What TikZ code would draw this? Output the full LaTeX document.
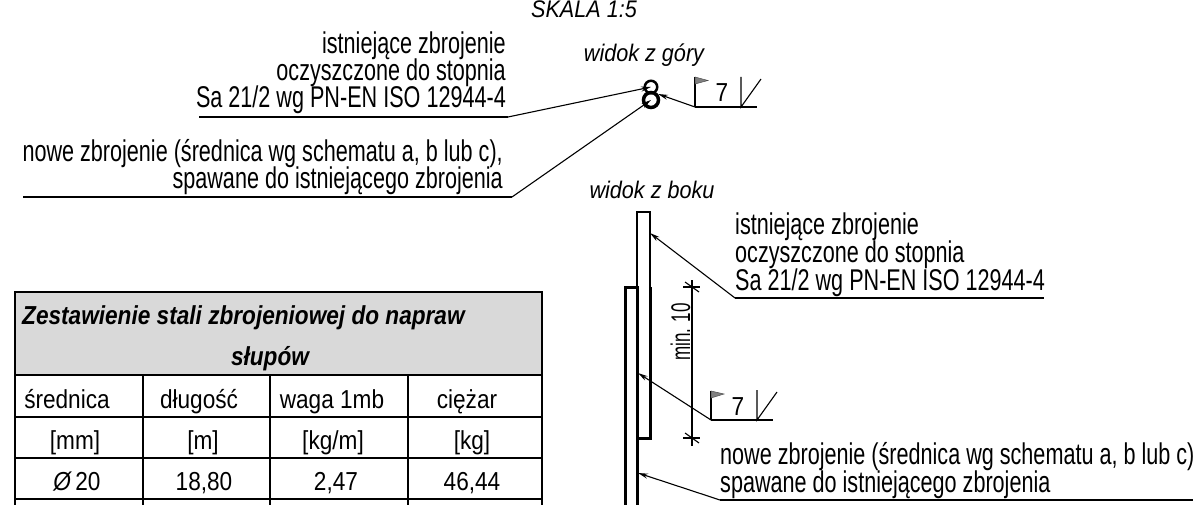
\documentclass[tikz,border=0pt]{standalone}
\usepackage{fontspec}
\setmainfont{Liberation Sans}
\newfontfamily\narrowfont[FakeStretch=0.72]{Liberation Sans}
\newfontfamily\dimfont[FakeStretch=0.63]{Liberation Sans}
\newfontfamily\cellfont[FakeStretch=0.87]{Liberation Sans}
\newfontfamily\viewfont[FakeStretch=0.9]{Liberation Sans}
\newfontfamily\titlefont[FakeStretch=0.87]{Liberation Sans}
\usetikzlibrary{arrows.meta}
\newcommand{\notefont}{\narrowfont\fontsize{30}{25}\selectfont\lineskiplimit=-100pt\relax}

\tikzset{
  note/.style={font=\notefont, inner sep=0pt},
  view/.style={font=\viewfont\itshape\fontsize{24}{24}\selectfont, inner sep=0pt, anchor=base},
  cell/.style={font=\cellfont\fontsize{26}{26}\selectfont, inner sep=0pt, anchor=base},
  tabletitle/.style={font=\titlefont\bfseries\itshape\fontsize{26}{26}\selectfont, inner sep=0pt},
  leader/.style={line width=1.1pt, -{Stealth[length=10pt,width=5pt]}},
  thin line/.style={line width=1.1pt},
  flag/.style={draw=black!70, line width=0.5pt, fill=gray},
  thick bar/.style={line width=3pt},
  grid line/.style={line width=2.2pt}
}

\begin{document}
\begin{tikzpicture}[x=1pt,y=-1pt]
\useasboundingbox (0,0) rectangle (1193,505);

\node [view] (scale) at (584,18) {SKALA 1:5};
\node [view] (viewtop) at (644,62) {widok z góry};
\node [view] (viewside) at (652,198) {widok z boku};

%% top view
\node [note, align=right, anchor=base east] (topold) at (506,108) {istniejące zbrojenie\\[2pt]oczyszczone do stopnia\\[2pt]Sa 21/2 wg PN-EN ISO 12944-4};
\node [note, align=right, anchor=base east] (topnew) at (503,189) {nowe zbrojenie (średnica wg schematu a, b lub c),\\[2pt]spawane do istniejącego zbrojenia};
\node [draw, circle, line width=2.5pt, minimum size=12.5pt, inner sep=0pt] (rodold) at (651,87) {};
\node [draw, circle, line width=3.5pt, minimum size=15pt, inner sep=0pt] (rodnew) at (651,100) {};
\coordinate (a1) at (199,117);
\coordinate (a2) at (508,117);
\coordinate (b1) at (23,197);
\coordinate (b2) at (512,197);
\draw [thin line] (a1) -- (a2);
\draw [leader] (a2) -- (rodold.center);
\draw [thin line] (b1) -- (b2);
\draw [leader] (b2) -- (rodnew.center);

%% weld mark, top
\coordinate (w1) at (695,107);
\coordinate (w1end) at (658,94);
\draw [leader] (w1) -- (w1end);
\draw [thin line] (w1) -- (757,107);
\draw [thin line] (w1) -- (695,77);
\draw [flag] (695,77) -- (708,80.5) -- (695,84) -- cycle;
\node [cell] (w1size) at (722,102) {7};
\draw [thin line] (741,77) -- (741,107) -- (761,79);

%% side view
\draw [thin line] (637,287) -- (637,212) -- (650,212) -- (650,287);
\draw [thick bar] (650,287) -- (650,438) -- (637,438);
\draw [thick bar] (625,505) -- (625,287) -- (637,287) -- (637,505);
\coordinate (c0) at (650,233);
\coordinate (c1) at (735,298);
\coordinate (c2) at (1044,298);
\draw [leader] (c1) -- (c0);
\draw [thin line] (c1) -- (c2);
\node [note, align=left, anchor=base west] (sideold) at (735,290) {istniejące zbrojenie\\[3pt]oczyszczone do stopnia\\[3pt]Sa 21/2 wg PN-EN ISO 12944-4};

%% dimension
\draw [thin line] (692,280) -- (692,446);
\draw [thin line] (683,287) -- (700,287);
\draw [thin line] (685,282) -- (699,292);
\draw [thin line] (683,438) -- (700,438);
\draw [thin line] (685,433) -- (699,443);
\node [rotate=90, anchor=base, inner sep=0pt, font=\dimfont\fontsize{27}{27}\selectfont] (dimlabel) at (690,332) {min. 10};

%% weld mark, side
\coordinate (w2) at (711,420);
\coordinate (w2end) at (638,373);
\draw [leader] (w2) -- (w2end);
\draw [thin line] (w2) -- (773,420);
\draw [thin line] (w2) -- (711,391);
\draw [flag] (711,391) -- (724,394) -- (711,398) -- cycle;
\node [cell] (w2size) at (738,415) {7};
\draw [thin line] (757,390) -- (757,420) -- (777,392);

\coordinate (e0) at (638,473);
\coordinate (e1) at (720,500);
\coordinate (e2) at (1193,500);
\draw [leader] (e1) -- (e0);
\draw [thin line] (e1) -- (e2);
\node [note, align=left, anchor=base west] (sidenew) at (720,492) {nowe zbrojenie (średnica wg schematu a, b lub c)\\[3pt]spawane do istniejącego zbrojenia};

%% table
\fill [gray!30] (15,292) rectangle (542,375);
\draw [grid line] (15,505) -- (15,292) -- (542,292) -- (542,505);
\draw [grid line] (15,375) -- (542,375);
\draw [grid line] (15,417) -- (542,417);
\draw [grid line] (15,458) -- (542,458);
\draw [grid line] (15,499) -- (542,499);
\foreach \x in {143,270,408} \draw [grid line] (\x,375) -- (\x,505);
\node [tabletitle, anchor=base west] (title) at (22,324) {Zestawienie stali zbrojeniowej do napraw};
\node [tabletitle, anchor=base] (titleb) at (270,365) {słupów};
\node [cell] (h1) at (67,408) {średnica};
\node [cell] (h2) at (199,408) {długość};
\node [cell] (h3) at (332,408) {waga 1mb};
\node [cell] (h4) at (467,408) {ciężar};
\node [cell] (u1) at (75,449) {[mm]};
\node [cell] (u2) at (203,449) {[m]};
\node [cell] (u3) at (333,449) {[kg/m]};
\node [cell] (u4) at (472,449) {[kg]};
\node [cell] (v1) at (77,490) {{\itshape Ø}\,20};
\node [cell] (v2) at (204,490) {18,80};
\node [cell] (v3) at (336,490) {2,47};
\node [cell] (v4) at (472,490) {46,44};
\end{tikzpicture}
\end{document}
